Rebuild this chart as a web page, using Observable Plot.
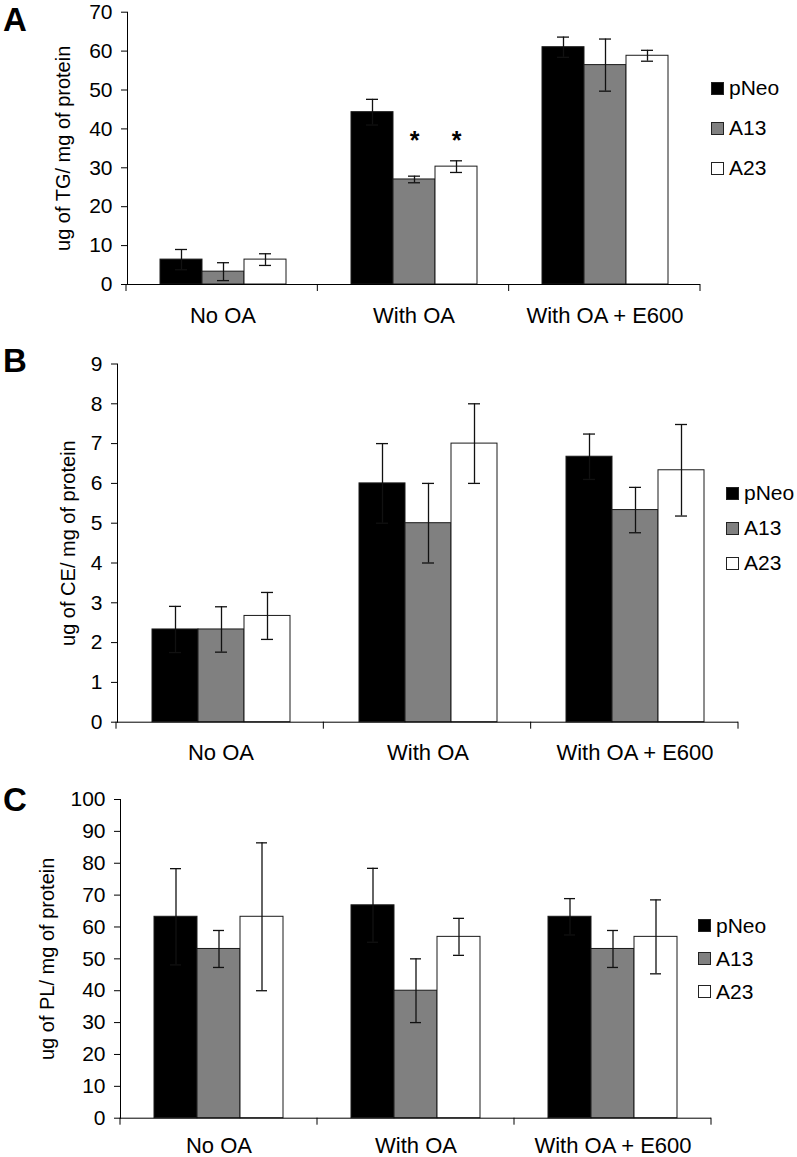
<!DOCTYPE html>
<html><head><meta charset="utf-8">
<script src="https://cdn.jsdelivr.net/npm/d3@7"></script>
<script src="https://cdn.jsdelivr.net/npm/@observablehq/plot@0.6"></script>
<style>
body{margin:0;background:#fff;font-family:"Liberation Sans",Arial,sans-serif;}
#root{position:relative;width:797px;height:1157px;overflow:hidden;background:#fff;}
.panel{position:absolute;left:0;}
.letter{position:absolute;left:3px;font-weight:bold;font-size:33px;line-height:1;color:#000;}
.legend{position:absolute;font-size:21px;color:#000;}
.legend .row{display:flex;align-items:center;}
.legend .sw{width:13px;height:13px;box-sizing:border-box;border:1px solid #222;margin-right:5px;}
svg [aria-label*="fx-axis"] text{font-size:22px !important;}
svg [aria-label="y-axis label"] text, svg text[aria-label="y-axis label"]{font-size:20px !important;}
</style></head><body><div id="root"></div>
<script>
const categories = ["No OA", "With OA", "With OA + E600"];
const series = ["pNeo", "A13", "A23"];
const seriesColors = ["#000000", "#808080", "#ffffff"];

// Panel A: TG (values per series, in category order)
const tgMean = {pNeo: [6.4, 44.3, 61.0], A13: [3.3, 27.0, 56.4], A23: [6.4, 30.3, 58.8]};
const tgErr  = {pNeo: [2.6, 3.3, 2.6],  A13: [2.3, 0.85, 6.7], A23: [1.5, 1.5, 1.4]};
const tgTicks = [0, 10, 20, 30, 40, 50, 60, 70];
const tgStars = [["With OA", "A13"], ["With OA", "A23"]];
const tgStarLevel = 37;

// Panel B: CE
const ceMean = {pNeo: [2.33, 6.0, 6.67], A13: [2.33, 5.0, 5.33], A23: [2.67, 7.0, 6.33]};
const ceErr  = {pNeo: [0.58, 1.0, 0.57], A13: [0.57, 1.0, 0.57], A23: [0.59, 1.0, 1.15]};
const ceTicks = [0, 1, 2, 3, 4, 5, 6, 7, 8, 9];

// Panel C: PL
const plMean = {pNeo: [63.2, 66.8, 63.2], A13: [53.1, 40.0, 53.1], A23: [63.2, 56.9, 56.9]};
const plErr  = {pNeo: [15.1, 11.6, 5.7], A13: [5.8, 10.0, 5.8], A23: [23.2, 5.8, 11.6]};
const plTicks = [0, 10, 20, 30, 40, 50, 60, 70, 80, 90, 100];

function buildRows(mean, err, stars) {
  const rows = [];
  categories.forEach((c, ci) => series.forEach(s => {
    const v = mean[s][ci], e = err[s][ci];
    rows.push({category: c, series: s, value: v, err: e, lo: v - e, hi: v + e,
      star: (stars || []).some(([sc, ss]) => sc === c && ss === s)});
  }));
  return rows;
}

const root = document.getElementById("root");

function panel(cfg) {
  const rows = buildRows(cfg.mean, cfg.err, cfg.stars);
  const marks = [
    Plot.barY(rows, {x: "series", y: "value", fill: "series", stroke: "#1a1a1a", strokeWidth: 1}),
    Plot.ruleX(rows, {x: "series", y1: "lo", y2: "hi", stroke: "#111", strokeWidth: 1.3}),
    Plot.tickY(rows, {x: "series", y: "lo", stroke: "#111", strokeWidth: 1.3, insetLeft: cfg.capInset, insetRight: cfg.capInset}),
    Plot.tickY(rows, {x: "series", y: "hi", stroke: "#111", strokeWidth: 1.3, insetLeft: cfg.capInset, insetRight: cfg.capInset}),
    Plot.ruleY([0], {stroke: "#000", strokeWidth: 1})
  ];
  if (cfg.stars) {
    marks.push(Plot.text(rows, {filter: d => d.star, x: "series", y: () => cfg.starLevel, text: () => "*",
      fontSize: 25, fontWeight: "bold", fill: "#000"}));
  }
  const plot = Plot.plot({
    width: 797, height: cfg.height,
    marginTop: cfg.mt, marginBottom: cfg.mb, marginLeft: cfg.ml, marginRight: cfg.mr,
    style: {fontFamily: "'Liberation Sans', Arial, sans-serif", fontSize: "20px", color: "#000", background: "transparent", overflow: "visible"},
    facet: {data: rows, x: "category"},
    fx: {domain: categories, padding: 0, axis: "bottom", tickSize: 0, tickPadding: cfg.catPad, label: null},
    x: {domain: series, paddingInner: 0, paddingOuter: 0.74, axis: null},
    y: {domain: [0, cfg.yMax], ticks: cfg.ticks, tickSize: 6, tickPadding: 9, label: cfg.label,
        labelAnchor: "center", labelArrow: "none", labelOffset: cfg.labelOffset, line: true},
    color: {domain: series, range: seriesColors},
    marks
  });
  // enlarge the numeric y tick labels
  d3.select(plot).selectAll("text").each(function() {
    if (/^\d+$/.test(this.textContent.trim())) {
      this.style.setProperty("font-size", "21px", "important");
    }
  });
  // category boundary ticks below the x axis, from the fx scale
  const fx = plot.scale("fx"), y = plot.scale("y");
  const r0 = fx.range[0], r1 = fx.range[1], n = fx.domain.length, step = (r1 - r0) / n;
  const y0 = y.range[0];
  d3.select(plot).append("g").selectAll("line").data(d3.range(n + 1)).join("line")
    .attr("x1", i => r0 + i * step).attr("x2", i => r0 + i * step)
    .attr("y1", y0).attr("y2", y0 + 7).attr("stroke", "#000").attr("stroke-width", 1);

  const div = document.createElement("div");
  div.className = "panel";
  div.style.top = cfg.top + "px";
  div.appendChild(plot);
  root.appendChild(div);

  const letter = document.createElement("div");
  letter.className = "letter";
  letter.style.top = cfg.letterTop + "px";
  letter.textContent = cfg.letter;
  root.appendChild(letter);

  const leg = document.createElement("div");
  leg.className = "legend";
  leg.style.left = cfg.legLeft + "px";
  leg.style.top = cfg.legTop + "px";
  series.forEach((s, i) => {
    const row = document.createElement("div");
    row.className = "row";
    row.style.height = cfg.legRow + "px";
    const sw = document.createElement("span");
    sw.className = "sw";
    sw.style.background = seriesColors[i];
    const t = document.createElement("span");
    t.textContent = s;
    row.appendChild(sw); row.appendChild(t);
    leg.appendChild(row);
  });
  root.appendChild(leg);
}

panel({letter: "A", letterTop: 3, top: 0, height: 340, mt: 11.7, mb: 56, ml: 126, mr: 97,
  mean: tgMean, err: tgErr, yMax: 70, ticks: tgTicks, label: "ug of TG/ mg of protein", labelOffset: 72,
  stars: tgStars, starLevel: tgStarLevel, capInset: 15, legLeft: 711, legTop: 68, legRow: 40, catPad: 23});

panel({letter: "B", letterTop: 344, top: 340, height: 440, mt: 23.5, mb: 58.3, ml: 116, mr: 59,
  mean: ceMean, err: ceErr, yMax: 9, ticks: ceTicks, label: "ug of CE/ mg of protein", labelOffset: 57,
  capInset: 17, legLeft: 726, legTop: 475.5, legRow: 35, catPad: 22});

panel({letter: "C", letterTop: 783, top: 780, height: 377, mt: 19, mb: 39.3, ml: 120, mr: 86,
  mean: plMean, err: plErr, yMax: 100, ticks: plTicks, label: "ug of PL/ mg of protein", labelOffset: 81,
  capInset: 16, legLeft: 698, legTop: 909, legRow: 33, catPad: 19});
</script></body></html>
